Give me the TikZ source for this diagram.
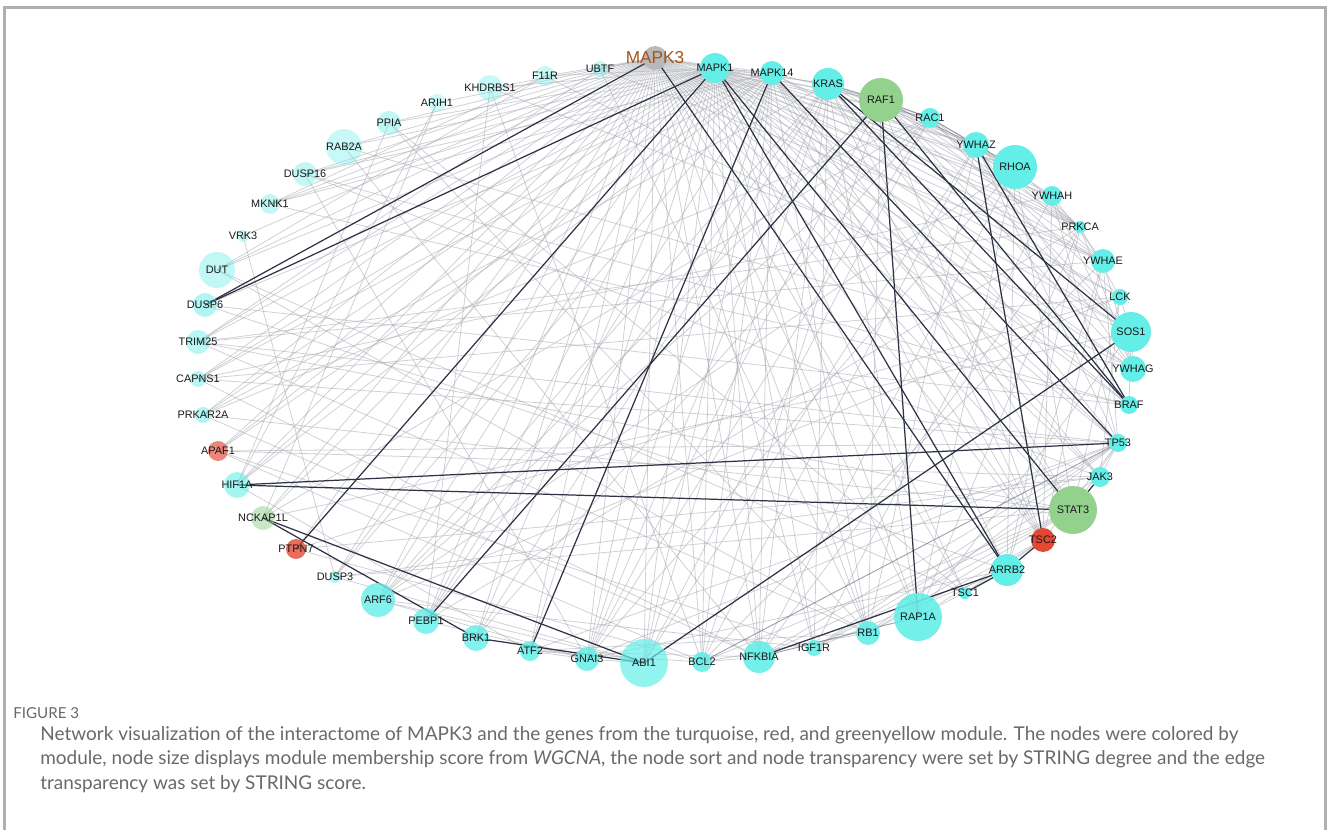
\documentclass[tikz,border=0pt]{standalone}
\usepackage{fontspec}
\setmainfont{Liberation Sans}
\newfontfamily\capfont{Lato}
\usepackage{tikz}

\definecolor{turq}{RGB}{100,238,232}
\definecolor{modgreen}{RGB}{146,210,140}
\definecolor{modred}{RGB}{226,72,52}
\definecolor{hubgray}{RGB}{185,185,185}
\definecolor{mapkbrown}{RGB}{165,84,28}
\definecolor{edgedark}{RGB}{45,50,68}
\definecolor{edgemid}{RGB}{120,124,140}
\definecolor{edgelight}{RGB}{168,170,178}
\definecolor{capgray}{RGB}{105,105,105}
\definecolor{framegray}{RGB}{175,175,175}

\pgfdeclarelayer{edges}
\pgfsetlayers{edges,main}

\begin{document}
\begin{tikzpicture}[x=0.02cm, y=-0.02cm,
  gene/.style={circle, inner sep=0pt, draw=none},
  genelabel/.style={font=\fontsize{6.2}{7}\selectfont, text=black!90, inner sep=0pt, opacity=1},
  hublabel/.style={font=\fontsize{9.8}{11}\selectfont, text=mapkbrown, inner sep=0pt, opacity=1},
  faint/.style={draw=edgelight, line width=0.45pt, opacity=0.55},
  medium/.style={draw=edgemid, line width=0.55pt, opacity=0.7},
  strong/.style={draw=edgedark, line width=0.7pt},
  captext/.style={font=\capfont, text=capgray, inner sep=0pt}]
\useasboundingbox (0,0) rectangle (1328,830);

\draw[framegray, line width=1.2pt] (4.5,830) -- (4.5,7.5) -- (1325.5,7.5) -- (1325.5,830);

% the hub
\node[gene, minimum size=0.96cm*0.5, fill=hubgray, label={[hublabel]center:MAPK3}] (MAPK3) at (655,58) {};

% genes round the ring
\foreach \g/\x/\y/\r/\c/\o in {UBTF/600/69/8/turq/0.35, F11R/545/76/10/turq/0.35, KHDRBS1/490/88/13/turq/0.35,
  ARIH1/437/103/9/turq/0.3, PPIA/389/123/12/turq/0.4, RAB2A/344/147/18/turq/0.35, DUSP16/305/174/12/turq/0.4,
  MKNK1/270/204/10/turq/0.4, VRK3/243/236/6/turq/0.35, DUT/217/270/18/turq/0.4, DUSP6/205/305/12/turq/0.5,
  TRIM25/198/342/12/turq/0.45, CAPNS1/198/379/8/turq/0.45, PRKAR2A/203/415/8/turq/0.5, APAF1/218/451/10/modred/0.65,
  HIF1A/237/485/13/turq/0.6, NCKAP1L/263/518/12/modgreen/0.5, PTPN7/296/549/10/modred/0.8, DUSP3/335/577/6/turq/0.5,
  ARF6/378/600/17/turq/0.8, PEBP1/426/621/13/turq/0.8, BRK1/476/638/13/turq/0.8, ATF2/530/651/10/turq/0.85,
  GNAI3/587/659/12/turq/0.85, ABI1/644/663/24/turq/0.7, BCL2/702/662/10/turq/0.9, NFKBIA/759/657/16/turq/0.9,
  IGF1R/814/648/8/turq/0.9, RB1/868/633/12/turq/0.9, RAP1A/918/617/24/turq/0.9, TSC1/965/593/6/turq/1,
  ARRB2/1007/570/16/turq/1, TSC2/1043/540/12/modred/1, STAT3/1073/510/24/modgreen/1, JAK3/1100/477/10/turq/1,
  TP53/1118/443/9/turq/1, BRAF/1129/405/9/turq/1, YWHAG/1133/369/13/turq/1, SOS1/1131/332/20/turq/1,
  LCK/1120/297/8/turq/1, YWHAE/1103/261/12/turq/1, PRKCA/1080/227/6/turq/1, YWHAH/1052/196/10/turq/1,
  RHOA/1015/167/22/turq/1, YWHAZ/976/145/13/turq/1, RAC1/930/118/10/turq/1, RAF1/881/100/22/modgreen/1,
  KRAS/828/84/16/turq/1, MAPK14/772/73/12/turq/1, MAPK1/715/68/15/turq/1}
  \node[gene, minimum size=\r*0.04cm, fill=\c, fill opacity=\o, label={[genelabel]center:\g}] (\g) at (\x,\y) {};

\begin{pgfonlayer}{edges}
% MAPK3 reaches every gene
\foreach \g in {UBTF, F11R, KHDRBS1, ARIH1, PPIA, RAB2A, DUSP16, MKNK1, VRK3, DUT, TRIM25, CAPNS1, PRKAR2A,
  APAF1, HIF1A, NCKAP1L, PTPN7, DUSP3, ARF6, PEBP1, BRK1, ATF2, GNAI3, ABI1, BCL2, NFKBIA, IGF1R, RB1, RAP1A,
  TSC1, TSC2, STAT3, JAK3, TP53, BRAF, YWHAG, SOS1, LCK, YWHAE, PRKCA, YWHAH, RHOA, YWHAZ, RAC1, RAF1, KRAS,
  MAPK14, MAPK1}
  \draw[faint] (MAPK3.center) -- (\g.center);

\foreach \g in {F11R, KHDRBS1, PPIA, RAB2A, DUSP16, MKNK1, DUT, TRIM25, CAPNS1, PRKAR2A, APAF1, HIF1A, NCKAP1L,
  DUSP3, ARF6, PEBP1, BRK1, ATF2, GNAI3, ABI1, BCL2, NFKBIA, IGF1R, RB1, RAP1A, TSC1, TSC2, JAK3, TP53, BRAF,
  YWHAG, SOS1, LCK, YWHAE, PRKCA, YWHAH, RHOA, YWHAZ, RAC1, RAF1, KRAS, MAPK14}
  \draw[faint] (MAPK1.center) -- (\g.center);

\foreach \g in {DUSP16, MKNK1, DUSP6, DUSP3, HIF1A, APAF1, BCL2, NFKBIA, STAT3, PRKCA, JAK3, RB1, ARRB2, TSC2,
  GNAI3, ABI1, YWHAE, RAF1, CAPNS1, PEBP1}
  \draw[faint] (MAPK14.center) -- (\g.center);

\foreach \i/\j in {KRAS/RAC1, KRAS/RHOA, KRAS/YWHAZ, KRAS/RAP1A, KRAS/PEBP1, KRAS/ABI1, KRAS/BRK1, KRAS/NFKBIA,
  KRAS/TSC2, KRAS/STAT3, KRAS/IGF1R, KRAS/GNAI3, KRAS/PRKCA, KRAS/TP53, KRAS/ARF6, RAF1/YWHAH, RAF1/YWHAE,
  RAF1/YWHAG, RAF1/RHOA, RAF1/PRKCA, RAF1/TSC2, RAF1/RB1, RAF1/BCL2, RAF1/ARF6, RAF1/GNAI3, RAF1/SOS1,
  RAC1/RHOA, RAC1/ABI1, RAC1/BRK1, RAC1/ARF6, RAC1/NCKAP1L, RAC1/SOS1, RAC1/PRKCA, RAC1/GNAI3, RAC1/LCK,
  YWHAZ/YWHAE, YWHAZ/YWHAH, YWHAZ/YWHAG, YWHAZ/TP53, YWHAZ/PRKCA, YWHAZ/ABI1, YWHAZ/BCL2, YWHAZ/RB1,
  RHOA/ARF6, RHOA/GNAI3, RHOA/PRKCA, RHOA/ARRB2, RHOA/NFKBIA, RHOA/STAT3, RHOA/RAP1A, YWHAH/YWHAE, YWHAH/YWHAG,
  YWHAH/TSC2, YWHAH/TP53, YWHAH/IGF1R, YWHAE/YWHAG, YWHAE/TP53, YWHAE/TSC2, YWHAE/BCL2, YWHAE/ARRB2,
  PRKCA/YWHAG, PRKCA/LCK, PRKCA/PEBP1, PRKCA/ARRB2, PRKCA/NFKBIA, PRKCA/RAP1A, PRKCA/TRIM25, LCK/STAT3,
  LCK/JAK3, LCK/SOS1, LCK/PTPN7, LCK/CAPNS1, LCK/ARF6, SOS1/BRAF, SOS1/YWHAG, SOS1/RAP1A, SOS1/NCKAP1L,
  TP53/STAT3, TP53/JAK3, TP53/RB1, TP53/APAF1, TP53/NFKBIA, TP53/IGF1R, TP53/TSC2, TP53/ATF2, TP53/TRIM25,
  TP53/CAPNS1, TP53/GNAI3, STAT3/NFKBIA, STAT3/BCL2, STAT3/IGF1R, STAT3/RB1, STAT3/TRIM25, STAT3/PRKAR2A,
  STAT3/DUSP3, JAK3/PTPN7, JAK3/DUSP3, JAK3/IGF1R, TSC2/TSC1, TSC2/RAP1A, TSC2/RB1, ARRB2/GNAI3, ARRB2/IGF1R,
  ARRB2/RAP1A, ARRB2/DUSP6, RB1/BCL2, RB1/ATF2, RB1/DUT, RB1/PPIA, NFKBIA/BCL2, NFKBIA/ATF2, NFKBIA/RAB2A,
  NFKBIA/CAPNS1, BCL2/APAF1, BCL2/ATF2, BCL2/KHDRBS1, ABI1/GNAI3, ABI1/ARF6, PEBP1/KHDRBS1, PEBP1/GNAI3,
  GNAI3/ARF6, GNAI3/ATF2, GNAI3/DUSP16, HIF1A/ATF2, HIF1A/ARIH1, HIF1A/PPIA, VRK3/DUSP3, DUT/TSC1, DUT/F11R,
  APAF1/JAK3, TRIM25/YWHAE, TRIM25/UBTF, CAPNS1/YWHAH, PRKAR2A/RAC1, PRKAR2A/KRAS, MKNK1/F11R, MKNK1/BRAF,
  DUSP16/BRAF, ARIH1/NCKAP1L, UBTF/RB1, UBTF/YWHAE, DUSP3/ABI1, PTPN7/BCL2, ARF6/IGF1R, RAB2A/YWHAG,
  KHDRBS1/SOS1, PPIA/TSC1, F11R/YWHAG, APAF1/IGF1R, TRIM25/RB1, PRKAR2A/NFKBIA, DUSP6/BRAF, DUSP16/JAK3}
  \draw[faint] (\i.center) -- (\j.center);

\foreach \i/\j in {KRAS/RAF1, RAF1/RAC1, RAC1/YWHAZ, YWHAZ/RHOA, RAF1/YWHAZ, BCL2/TP53, NFKBIA/RAP1A}
  \draw[medium] (\i.center) -- (\j.center);

\foreach \i/\j in {DUSP6/MAPK3, DUSP6/MAPK1, PTPN7/MAPK1, MAPK3/ARRB2, MAPK1/ARRB2, MAPK1/STAT3, MAPK14/ATF2,
  MAPK14/TP53, RAF1/PEBP1, RAF1/RAP1A, KRAS/SOS1, KRAS/BRAF, RAF1/BRAF, YWHAZ/TSC2, YWHAZ/BRAF, ABI1/SOS1,
  HIF1A/TP53, HIF1A/STAT3, NCKAP1L/BRK1, NCKAP1L/ABI1, BRK1/ABI1, ARRB2/TSC2, TSC1/ARRB2, NFKBIA/ARRB2,
  STAT3/JAK3}
  \draw[strong] (\i.center) -- (\j.center);
\end{pgfonlayer}

% caption
\node[captext, font=\capfont\fontsize{8.6}{10}\selectfont, anchor=west] (figlabel) at (13,713) {FIGURE 3};
\node[captext, font=\capfont\fontsize{10.8}{14}\selectfont, anchor=north west, align=left] (caption) at (40,726)
  {Network visualization of the interactome of MAPK3 and the genes from the turquoise, red, and greenyellow module. The nodes were colored by\\
   module, node size displays module membership score from \textit{WGCNA}, the node sort and node transparency were set by STRING degree and the edge\\
   transparency was set by STRING score.};

\end{tikzpicture}
\end{document}
